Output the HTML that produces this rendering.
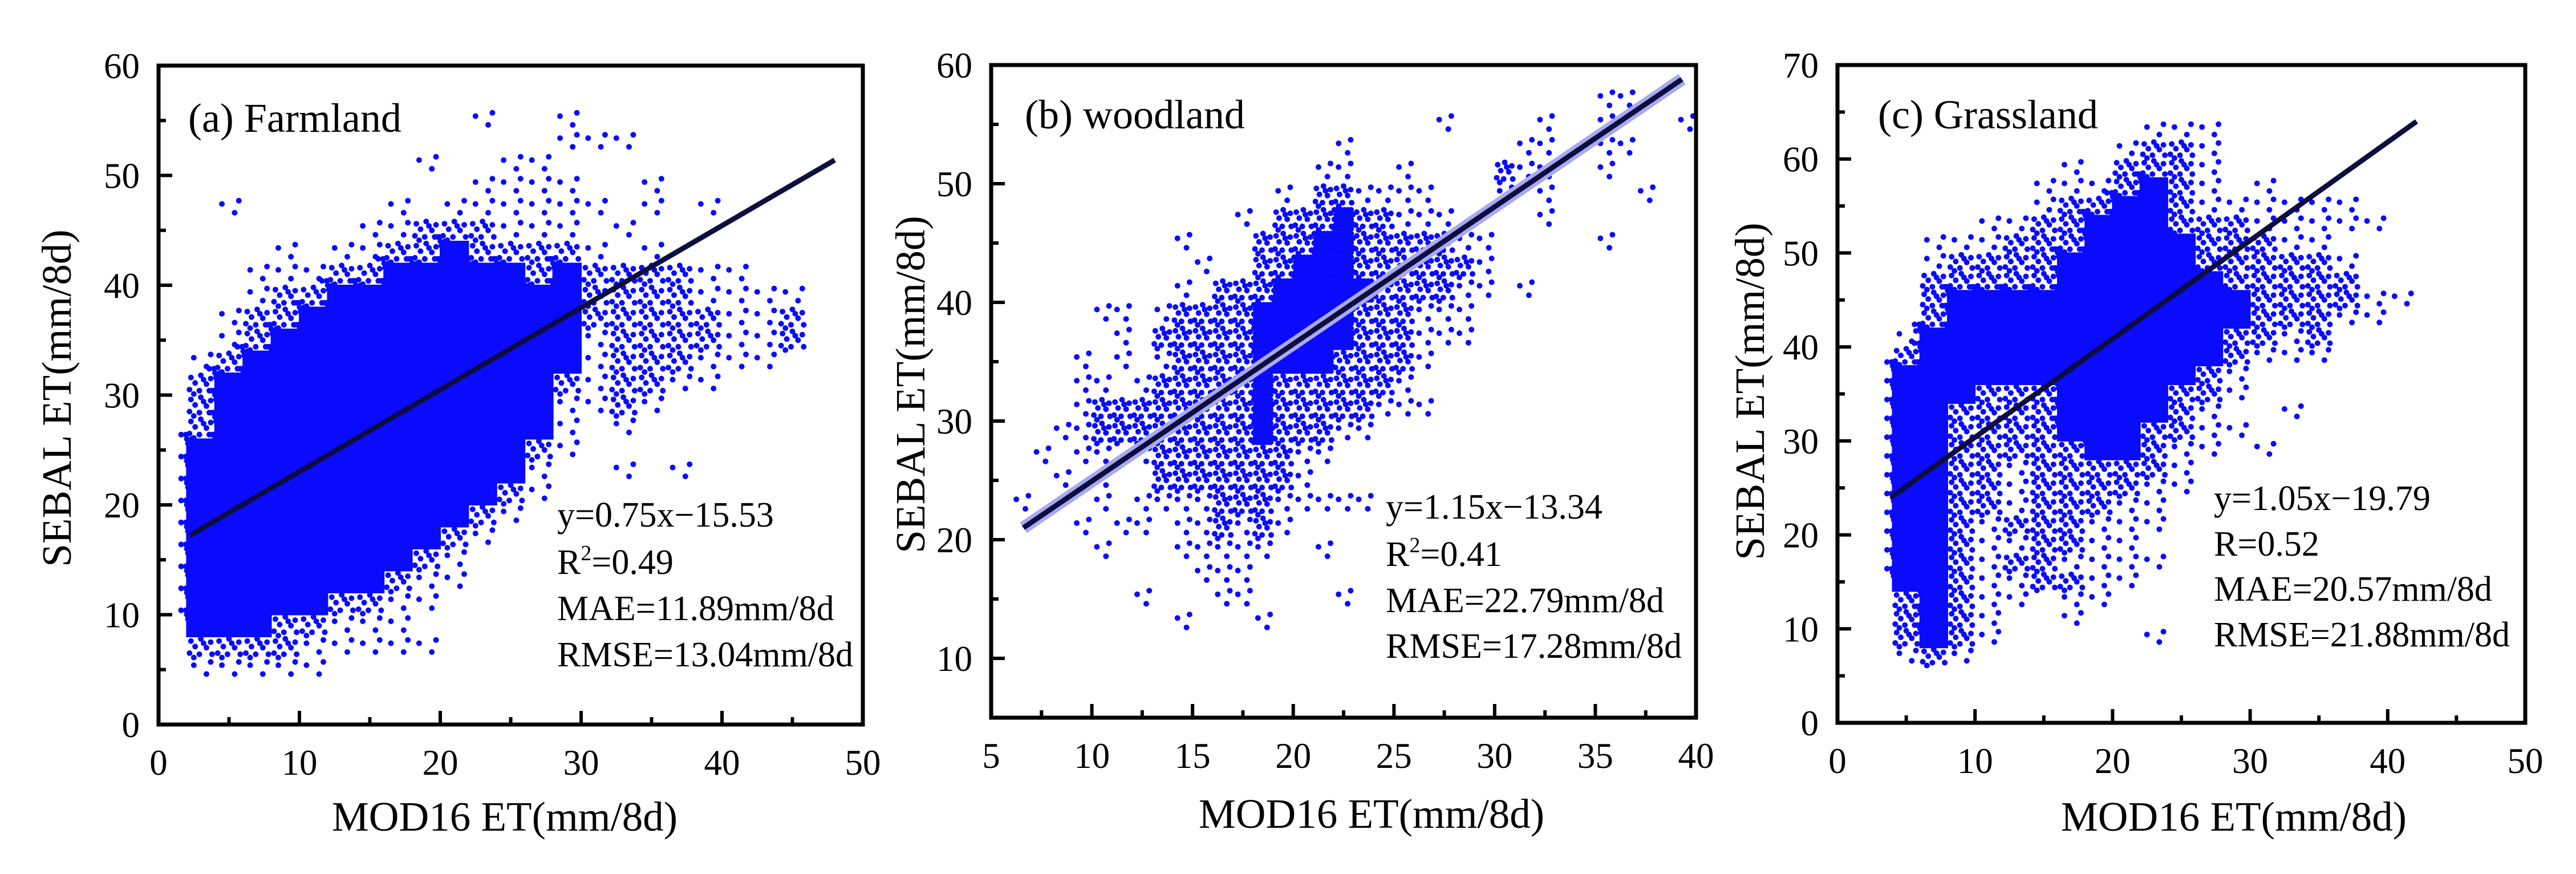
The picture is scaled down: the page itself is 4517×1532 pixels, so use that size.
<!DOCTYPE html>
<html><head><meta charset="utf-8">
<style>
html,body{margin:0;padding:0;background:#fff;}
svg{display:block;}
text{font-family:"Liberation Serif","Times New Roman",serif;fill:#000;}
</style></head>
<body>
<svg id="fig" width="4517" height="1532" viewBox="0 0 4517 1532" xmlns="http://www.w3.org/2000/svg">
<rect x="0" y="0" width="4517" height="1532" fill="#fff"/>
</svg>
<script>
// ---------- DATA ----------
// Density rows (top row first). Each segment "startCol:chars"; '.' sparse, ':' medium, '#' dense.
const farmRows = ["","","11:. 14:.","14:...","9:. 12:..","11:.... 17:.","2:. 8:. 10:...... 17:. 19:.","7:..:::... 16:.","4:. 6:..::#::::. 17:.","3:...::#####:#::::..","3:.::#########::::....","2:.::##########:::::..:","2:.:###########.::::..:","1:.:############.:::...","1::############:.::..","1::############..:.","1::############. 16:.","1:############:.","1:############. 16:. 18:.","1:###########:.","1:##########:.","1:#########:.","1:########:.","1:#######:..","1:#####::..","1:###::...","1:::::.....","1:.....","",""];
const woodRows = ["","30:..","22:. 27:. 30:. 34:.","17:. 26:.. 30:..","16:.. 20:. 25::.. 30:.","14:. 16:::.... 25:. 27:. 32:.","12:. 14::::#::... 27:.","9:. 13::::##:::::.. 30:.","10:. 13:::###::::::.","9:. 11::::#####::::.. 26:.","5:.. 8:.::::#####:::...","6:. 8::::::#####:::...","4:. 6:. 8:.::::####::::.","4:.. 7:.:::::#::::::.","4:.::::::::#:::::...","3:..::::::::#:::..","2:. 4:.. 7:.:::::::..","3:. 5:. 8::::::::.","1:. 5:. 7:....:::.....","4:. 6:.. 9:..:.:.","5:. 9:..... 16:.","10:...","7:. 11:.. 17:.","9:. 13:."];
const grassRows = ["","","","11:...","10:.::.","8:. 10::::.","7:...:#:. 15:.","7:.::##:......","5:..::###:::.....","3:...:::####:::..","3:.::::#####:::::.","3::::::######:::::","3::###########::::..","3::###########:::..","2:.###########::.:","2::###########:...","2:###########:.","2:###:::####::.","2:##::::####:. 16:.","2:##::::###::..","2:##:::::##:.. 15:.","2:##::.:::::.","2:##::.::::..","2:##::.:::..","2:##:.:::...","2:##:..::..","2:##:.::....","2:##:..::..","2::#:.. 8:..","2::#:. 8:.","2::#:. 11:.","2:.:.","","",""];
// Fitted lines [x0,x1],[y0,y1]
const farmLineX = [2.2, 48]; const farmLineY = [17.2, 51.4];
const woodLineX = [6.6, 39.3]; const woodLineY = [21.0, 58.8];
const grassLineX = [3.9, 42.1]; const grassLineY = [24.0, 64.0];
// Tick labels
const farmXTicks = [0,10,20,30,40,50]; const farmYTicks = [0,10,20,30,40,50,60];
const woodXTicks = [5,10,15,20,25,30,35,40]; const woodYTicks = [10,20,30,40,50,60];
const grassXTicks = [0,10,20,30,40,50]; const grassYTicks = [0,10,20,30,40,50,60,70];
// Statistics text
const farmStats = ["y=0.75x\u221215.53","R2=0.49","MAE=11.89mm/8d","RMSE=13.04mm/8d"];
const woodStats = ["y=1.15x\u221213.34","R2=0.41","MAE=22.79mm/8d","RMSE=17.28mm/8d"];
const grassStats = ["y=1.05x\u221219.79","R=0.52","MAE=20.57mm/8d","RMSE=21.88mm/8d"];

// ---------- RENDER ----------
const NS = "http://www.w3.org/2000/svg";
const svg = document.getElementById('fig');
function mk(tag, attrs, parent){ const e=document.createElementNS(NS,tag); for(const k in attrs) e.setAttribute(k,attrs[k]); (parent||svg).appendChild(e); return e; }
const medOff = [[.15,.2],[.5,.1],[.85,.25],[.3,.45],[.7,.5],[.1,.75],[.45,.8],[.9,.8],[.6,.3],[.25,.95]];
const sparseOff = [[.25,.3],[.7,.7],[.85,.15]];
const denseOff = []; for(let i=0;i<6;i++)for(let j=0;j<5;j++) denseOff.push([(i+0.25+(j%2)*0.5)/6,(j+0.5)/5]);

function panel(p){
  const g = mk('g',{});
  
  
  const sx = v => p.L + (v-p.xMin)/(p.xMax-p.xMin)*(p.R-p.L);
  const sy = v => p.B - (v-p.yMin)/(p.yMax-p.yMin)*(p.B-p.T);
  const pts = mk('g',{fill:'#0a0aff'},g);
  
  
  p.rows.forEach((row,ri)=>{
    const yTop = p.yTop - ri*p.cy, yBot = yTop - p.cy;
    row.split(' ').filter(s=>s).forEach(seg=>{
      const k = seg.indexOf(':'); const start = +seg.slice(0,k); const chars = seg.slice(k+1);
      for(let i=0;i<chars.length;i++){
        const ch = chars[i]; const x0 = p.xStart + (start+i)*p.cx, x1 = x0 + p.cx;
        const px0=sx(x0), px1=sx(x1), py0=sy(yTop), py1=sy(yBot);
        const w=px1-px0, h=py1-py0;
        if(ch==='#' && p.solid){
          mk('rect',{x:px0-1,y:py0-1,width:w+2,height:h+2},pts);
          denseOff.slice(0,8).forEach(o=>mk('circle',{cx:(px0+o[0]*w+(o[1]-.5)*w*0.6).toFixed(1),cy:(py0+o[1]*h-h*0.3).toFixed(1),r:p.r},pts));
          continue; }
        const offs = ch==='#'?denseOff:(ch===':'?medOff:(ch==='.'?sparseOff:[]));
        offs.forEach(o=>mk('circle',{cx:(px0+o[0]*w).toFixed(1),cy:(py0+o[1]*h).toFixed(1),r:p.r},pts));
      }
    });
  });
  if(p.band){ const b=mk('line',{x1:sx(p.lineX[0]),y1:sy(p.lineY[0]),x2:sx(p.lineX[1]),y2:sy(p.lineY[1]),stroke:'#a9a9f2','stroke-width':22},g);
      }
  const ln = mk('line',{x1:sx(p.lineX[0]),y1:sy(p.lineY[0]),x2:sx(p.lineX[1]),y2:sy(p.lineY[1]),stroke:'#0d0d40','stroke-width':9},g);
   
  const step = p.xTicks[1]-p.xTicks[0];
  p.xTicks.forEach((v,i)=>{
    const x=sx(v);
    if(i>0&&i<p.xTicks.length-1) mk('line',{x1:x,y1:p.B,x2:x,y2:p.B-24,stroke:'#000','stroke-width':6},g);
    if(i<p.xTicks.length-1){ const xm=sx(v+step/2); mk('line',{x1:xm,y1:p.B,x2:xm,y2:p.B-13,stroke:'#000','stroke-width':6},g); }
    const t=mk('text',{x:x,y:p.B+88,'font-size':63,'text-anchor':'middle'},g); t.textContent=v;
     
  });
  const ystep = p.yTicks[1]-p.yTicks[0];
  p.yTicks.forEach((v,i)=>{
    const y=sy(v);
    if(v>p.yMin && i<p.yTicks.length-1) mk('line',{x1:p.L,y1:y,x2:p.L+24,y2:y,stroke:'#000','stroke-width':6},g);
    if(i<p.yTicks.length-1){ const ym=sy(v+ystep/2); mk('line',{x1:p.L,y1:ym,x2:p.L+13,y2:ym,stroke:'#000','stroke-width':6},g); }
    if(i===0 && v>p.yMin){ const ym=sy(v-ystep/2); if(ym<=p.B) mk('line',{x1:p.L,y1:ym,x2:p.L+13,y2:ym,stroke:'#000','stroke-width':6},g); }
    const t=mk('text',{x:p.L-33,y:y+22,'font-size':63,'text-anchor':'end'},g); t.textContent=v;
     
  });
  const fr=mk('rect',{x:p.L,y:p.T,width:p.R-p.L,height:p.B-p.T,fill:'none',stroke:'#000','stroke-width':7},g);
   
  const ti=mk('text',{x:p.titleX,y:p.titleY,'font-size':72},g); ti.textContent=p.title;
   
  const xt=mk('text',{x:p.xtX,y:p.xtY,'font-size':73,'text-anchor':'middle'},g); xt.textContent='MOD16 ET(mm/8d)';
   
  const yt=mk('text',{x:0,y:0,'font-size':73,'text-anchor':'middle',transform:`translate(${p.ytX},${p.ytY}) rotate(-90)`},g); yt.textContent='SEBAL ET(mm/8d)';
   
  p.stats.forEach((s,i)=>{
    const t=mk('text',{x:p.stX,y:p.stY[i],'font-size':62},g);
     
    if(s.startsWith('R2')){ t.appendChild(document.createTextNode('R')); const sp=mk('tspan',{'font-size':38,dy:-24},t); sp.textContent='2'; const r=mk('tspan',{dy:24},t); r.textContent=s.slice(2); }
    else t.textContent=s;
  });
}

panel({name:'panel-farmland',L:278,R:1513,T:115,B:1270,xMin:0,xMax:50,yMin:0,yMax:60,
  rows:farmRows,xStart:0,cx:2,yTop:60,cy:2,solid:true,r:5,lineX:farmLineX,lineY:farmLineY,
  xTicks:farmXTicks,yTicks:farmYTicks,title:'(a) Farmland',titleX:330,titleY:231,
  xtX:885,xtY:1456,ytX:124,ytY:698,stats:farmStats,stX:977,stY:[923,1006,1087,1168]});
panel({name:'panel-woodland',L:1738,R:2974,T:114,B:1258,xMin:5,xMax:40,yMin:5,yMax:60,
  rows:woodRows,xStart:5,cx:1,yTop:60,cy:2,solid:false,r:5,lineX:woodLineX,lineY:woodLineY,band:true,
  xTicks:woodXTicks,yTicks:woodYTicks,title:'(b) woodland',titleX:1797,titleY:225,
  xtX:2405,xtY:1451,ytX:1621,ytY:674,stats:woodStats,stX:2430,stY:[909,992,1073,1153]});
panel({name:'panel-grassland',L:3222,R:4428,T:114,B:1267,xMin:0,xMax:50,yMin:0,yMax:70,
  rows:grassRows,xStart:0,cx:2,yTop:70,cy:2,solid:true,r:5,lineX:grassLineX,lineY:grassLineY,
  xTicks:grassXTicks,yTicks:grassYTicks,title:'(c) Grassland',titleX:3293,titleY:225,
  xtX:3917,xtY:1456,ytX:3093,ytY:686,stats:grassStats,stX:3882,stY:[894,974,1053,1133]});
</script>
</body></html>
